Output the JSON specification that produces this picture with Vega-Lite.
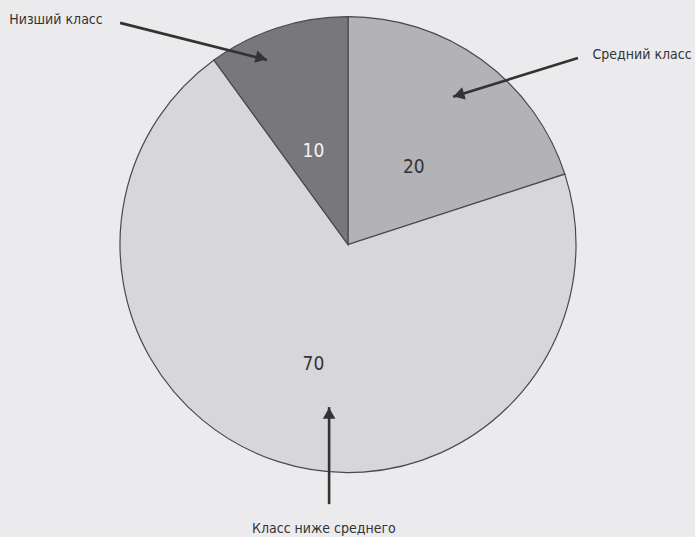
{
  "$schema": "https://vega.github.io/schema/vega-lite/v6.json",
  "autosize": {"type": "fit", "contains": "padding"},
  "width": 695,
  "height": 537,
  "padding": 0,
  "background": "#ebebed",
  "config": {"view": {"stroke": null}, "font": "DejaVu Sans Condensed, Roboto, sans-serif"},
  "datasets": {
    "pie": [
      {"class": "Средний класс", "value": 20},
      {"class": "Класс ниже среднего", "value": 70},
      {"class": "Низший класс", "value": 10}
    ],
    "arrows": [
      {"x": -101.3, "y": 98.7, "x2": -36.0, "y2": 82.2, "hx": -38.6, "hy": 83.1, "angle": 104},
      {"x": 102.2, "y": 83.1, "x2": 46.7, "y2": 65.8, "hx": 49.2, "hy": 66.6, "angle": 253},
      {"x": -8.4, "y": -115.6, "x2": -8.4, "y2": -72.4, "hx": -8.4, "hy": -75.1, "angle": 0}
    ],
    "labels": [
      {"label": "Низший класс", "x": -129.8, "y": 100.0},
      {"label": "Средний класс", "x": 130.7, "y": 84.4},
      {"label": "Класс ниже среднего", "x": -10.7, "y": -126.7}
    ]
  },
  "layer": [
    {
      "data": {"name": "pie"},
      "mark": {"type": "arc", "outerRadius": 228, "stroke": "#4a4a4c", "strokeWidth": 1.2},
      "encoding": {
        "theta": {"field": "value", "type": "quantitative", "stack": true, "scale": {"range": [1.2566, 7.5398]}},
        "order": {"field": "class", "sort": "ascending"},
        "color": {"field": "class", "type": "nominal", "legend": null,
          "scale": {"domain": ["Средний класс", "Класс ниже среднего", "Низший класс"], "range": ["#b3b3b7", "#d7d7db", "#78787c"]}},
        "x": {"datum": 0, "type": "quantitative", "axis": null, "scale": {"domain": [-154.67, 154.22], "nice": false, "zero": false}},
        "y": {"datum": 0, "type": "quantitative", "axis": null, "scale": {"domain": [-129.78, 108.89], "nice": false, "zero": false}}
      }
    },
    {
      "data": {"name": "pie"},
      "mark": {"type": "text", "radius": 112, "dy": 13, "fontSize": 19},
      "encoding": {
        "theta": {"field": "value", "type": "quantitative", "stack": true, "scale": {"range": [1.2566, 7.5398]}},
        "order": {"field": "class", "sort": "ascending"},
        "text": {"field": "value", "type": "quantitative"},
        "color": {"condition": {"test": "datum['class'] === 'Низший класс'", "value": "#f4f4f4"}, "value": "#333333"},
        "x": {"datum": 0, "type": "quantitative", "axis": null, "scale": {"domain": [-154.67, 154.22], "nice": false, "zero": false}},
        "y": {"datum": 0, "type": "quantitative", "axis": null, "scale": {"domain": [-129.78, 108.89], "nice": false, "zero": false}}
      }
    },
    {
      "data": {"name": "arrows"},
      "mark": {"type": "rule", "color": "#333333", "strokeWidth": 2.6},
      "encoding": {
        "x": {"field": "x", "type": "quantitative", "axis": null, "scale": {"domain": [-154.67, 154.22], "nice": false, "zero": false}},
        "y": {"field": "y", "type": "quantitative", "axis": null, "scale": {"domain": [-129.78, 108.89], "nice": false, "zero": false}},
        "x2": {"field": "x2"},
        "y2": {"field": "y2"}
      }
    },
    {
      "data": {"name": "arrows"},
      "mark": {"type": "point", "shape": "triangle-up", "filled": true, "color": "#333333", "opacity": 1, "size": 160},
      "encoding": {
        "x": {"field": "hx", "type": "quantitative", "axis": null, "scale": {"domain": [-154.67, 154.22], "nice": false, "zero": false}},
        "y": {"field": "hy", "type": "quantitative", "axis": null, "scale": {"domain": [-129.78, 108.89], "nice": false, "zero": false}},
        "angle": {"field": "angle", "type": "quantitative", "scale": null}
      }
    },
    {
      "data": {"name": "labels"},
      "mark": {"type": "text", "fontSize": 14, "color": "#333333", "align": "center", "baseline": "middle"},
      "encoding": {
        "x": {"field": "x", "type": "quantitative", "axis": null, "scale": {"domain": [-154.67, 154.22], "nice": false, "zero": false}},
        "y": {"field": "y", "type": "quantitative", "axis": null, "scale": {"domain": [-129.78, 108.89], "nice": false, "zero": false}},
        "text": {"field": "label", "type": "nominal"}
      }
    }
  ]
}
